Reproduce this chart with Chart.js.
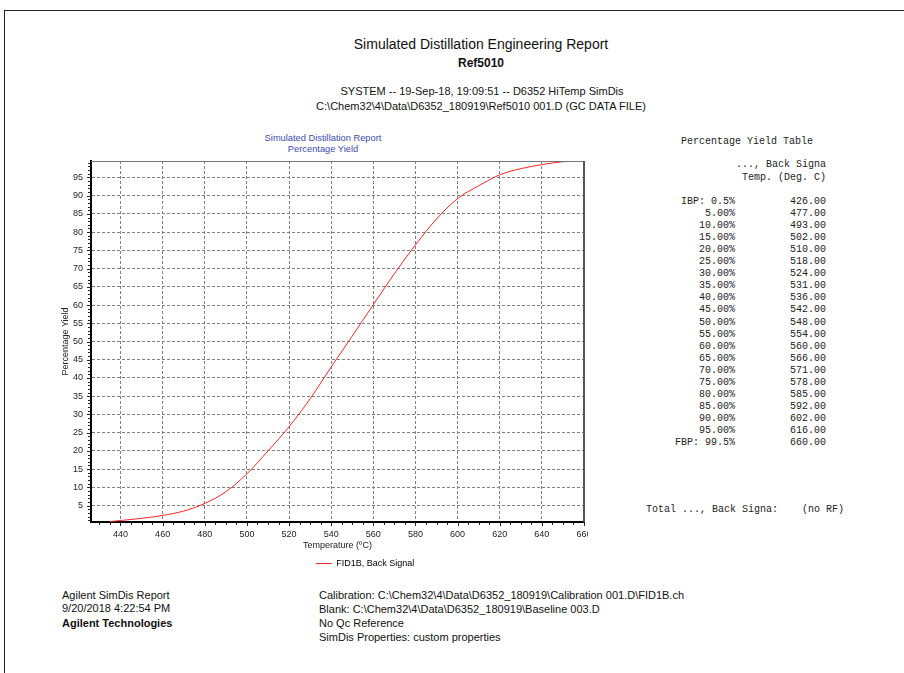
<!DOCTYPE html>
<html>
<head>
<meta charset="utf-8">
<script src="https://cdn.jsdelivr.net/npm/chart.js@4.4.0/dist/chart.umd.min.js"></script>
<style>
  body { margin: 0; background: #fff; width: 904px; height: 673px; overflow: hidden; position: relative;
         font-family: Arial, "Liberation Sans", sans-serif; color: #111; }
  .frame { position: absolute; left: 4px; top: 10px; width: 910px; height: 680px;
           border-top: 1px solid #222; border-left: 1px solid #222; }
  .t { position: absolute; white-space: pre; }
  .c { transform: translateX(-50%); }
  .s11 { font-size: 11px; line-height: 14px; }
  .mono { font-family: "Liberation Mono", "Courier New", monospace; font-size: 10px; line-height: 12px; color: #222; }
  .blue { font-size: 9.3px; line-height: 11px; color: #3a4db0; }
  #chartBox { position: absolute; left: 0; top: 125px; }
</style>
</head>
<body>
<div class="frame"></div>

<div class="t c" style="left:481px; top:36px; font-size:14px; line-height:16px;">Simulated Distillation Engineering Report</div>
<div class="t c" style="left:481px; top:55px; font-size:12px; line-height:16px; font-weight:bold;">Ref5010</div>
<div class="t c s11" style="left:482px; top:84px;">SYSTEM -- 19-Sep-18, 19:09:51 -- D6352 HiTemp SimDis</div>
<div class="t c s11" style="left:481px; top:99px;">C:\Chem32\4\Data\D6352_180919\Ref5010 001.D (GC DATA FILE)</div>

<div class="t c blue" style="left:323px; top:133px;">Simulated Distillation Report</div>
<div class="t c blue" style="left:323px; top:144px;">Percentage Yield</div>

<div id="chartBox"><canvas id="yieldChart" width="588" height="460"></canvas></div>

<div id="table"></div>

<div class="t s11" style="left:62px; top:588px;">Agilent SimDis Report</div>
<div class="t s11" style="left:62px; top:601px;">9/20/2018 4:22:54 PM</div>
<div class="t s11" style="left:62px; top:616px; font-weight:bold;">Agilent Technologies</div>
<div class="t s11" style="left:319px; top:588px;">Calibration: C:\Chem32\4\Data\D6352_180919\Calibration 001.D\FID1B.ch</div>
<div class="t s11" style="left:319px; top:602px;">Blank: C:\Chem32\4\Data\D6352_180919\Baseline 003.D</div>
<div class="t s11" style="left:319px; top:616px;">No Qc Reference</div>
<div class="t s11" style="left:319px; top:630px;">SimDis Properties: custom properties</div>

<script>
// curve (temperature, % yield)
const temps  = [435, 440, 450, 460, 470, 480, 490, 500, 510, 520, 530, 540, 550,
                560, 570, 580, 590, 600, 610, 620, 630, 640, 650, 660];
const yields = [0.6, 0.9, 1.5, 2.3, 3.5, 5.6, 8.8, 13.7, 20, 26.6, 34.3, 43.0, 51.5,
                60.1, 68.6, 76.5, 83.6, 89.2, 92.7, 95.7, 97.4, 98.5, 99.3, 99.5];

// yield table on the right
const tableLabels = ['IBP: 0.5%', '5.00%', '10.00%', '15.00%', '20.00%', '25.00%', '30.00%',
                     '35.00%', '40.00%', '45.00%', '50.00%', '55.00%', '60.00%', '65.00%',
                     '70.00%', '75.00%', '80.00%', '85.00%', '90.00%', '95.00%', 'FBP: 99.5%'];
const tableTemps  = ['426.00', '477.00', '493.00', '502.00', '510.00', '518.00', '524.00',
                     '531.00', '536.00', '542.00', '548.00', '554.00', '560.00', '566.00',
                     '571.00', '578.00', '585.00', '592.00', '602.00', '616.00', '660.00'];

// axis ranges and tick steps
const xMin = 426, xMax = 660, xStep = 20;
const yMin = 0.5, yMax = 99.5, yStep = 5;

function buildTable() {
    const box = document.getElementById('table');
    let html = '';
    html += '<div class="t mono" style="left:681px; top:136px;">Percentage Yield Table</div>';
    html += '<div class="t mono" style="right:78px; top:159px;">..., Back Signa</div>';
    html += '<div class="t mono" style="right:78px; top:172px;">Temp. (Deg. C)</div>';
    tableLabels.forEach(function(lab, i) {
        const top = 196 + i * 12.05;
        html += '<div class="t mono" style="right:169px; top:' + top + 'px;">' + lab + '</div>';
        html += '<div class="t mono" style="right:78px; top:' + top + 'px;">' + tableTemps[i] + '</div>';
    });
    html += '<div class="t mono" style="left:646px; top:504px;">Total ..., Back Signa:    (no RF)</div>';
    box.innerHTML = html;
}
buildTable();

Chart.defaults.font.family = 'Arial, "Liberation Sans", sans-serif';
Chart.defaults.color = '#222';

const lineColor = '#ff2525';

// small ruler ticks on both axes plus top / right frame
const axisTicks = {
    id: 'axisTicks',
    afterDraw(chart) {
        const ctx = chart.ctx, a = chart.chartArea, x = chart.scales.x, y = chart.scales.y;
        ctx.save();
        ctx.strokeStyle = '#222';
        ctx.lineWidth = 1;
        ctx.beginPath();
        for (let v = 1; v <= 99; v++) {
            const py = Math.round(y.getPixelForValue(v)) + 0.5;
            ctx.moveTo(a.left - (v % 5 ? 3 : 4), py);
            ctx.lineTo(a.left, py);
        }
        for (let v = 430; v <= 660; v += 5) {
            const px = Math.round(x.getPixelForValue(v)) + 0.5;
            ctx.moveTo(px, a.bottom);
            ctx.lineTo(px, a.bottom + (v % 20 ? 3 : 4));
        }
        ctx.stroke();
        ctx.strokeStyle = '#777';
        ctx.beginPath();
        ctx.moveTo(a.left, a.top + 0.5);
        ctx.lineTo(a.right, a.top + 0.5);
        ctx.stroke();
        ctx.strokeStyle = '#555';
        ctx.lineWidth = 2;
        ctx.beginPath();
        ctx.moveTo(a.right, a.top);
        ctx.lineTo(a.right, a.bottom);
        ctx.stroke();
        ctx.restore();
    }
};

// push the legend over to where the report puts it
const legendShift = {
    id: 'legendShift',
    afterLayout(chart) {
        chart.legend.left += 73;
        chart.legend.right += 73;
    }
};

const points = temps.map(function(t, i) { return { x: t, y: yields[i] }; });

new Chart(document.getElementById('yieldChart'), {
    type: 'line',
    data: {
        datasets: [{
            label: 'FID1B, Back Signal',
            data: points,
            borderColor: lineColor,
            borderWidth: 1,
            pointRadius: 0,
            fill: false,
            cubicInterpolationMode: 'monotone'
        }]
    },
    options: {
        responsive: false,
        animation: false,
        layout: { padding: { top: 36, right: 4, bottom: 7, left: 0 } },
        scales: {
            x: {
                type: 'linear',
                min: xMin,
                max: xMax,
                afterBuildTicks(scale) {
                    scale.ticks = scale.ticks.filter(t => Math.abs(t.value % xStep) < 1e-6);
                },
                afterFit(scale) {
                    scale.height = 29;
                    scale.paddingLeft = 0;
                    scale.paddingRight = 0;
                },
                ticks: { stepSize: xStep, padding: 7, maxRotation: 0, font: { size: 9 }, color: '#222' },
                grid: { color: '#808080', lineWidth: 1, drawTicks: false },
                border: { display: true, color: '#000', width: 2, dash: [3, 2] },
                title: { display: true, text: 'Temperature (ºC)', font: { size: 9 }, color: '#222', padding: 0 }
            },
            y: {
                min: yMin,
                max: yMax,
                afterBuildTicks(scale) {
                    scale.ticks = scale.ticks.filter(t => Math.abs(t.value % yStep) < 1e-6 && t.value > yMin);
                },
                afterFit(scale) {
                    scale.width = 91;
                    scale.paddingTop = 0;
                    scale.paddingBottom = 0;
                },
                ticks: { stepSize: yStep, padding: 8, font: { size: 9 }, color: '#222' },
                grid: { color: '#808080', lineWidth: 1, drawTicks: false },
                border: { display: true, color: '#000', width: 2, dash: [3, 2] },
                title: { display: true, text: 'Percentage Yield', font: { size: 9 }, color: '#222', padding: { top: 60, bottom: 0 } }
            }
        },
        plugins: {
            legend: {
                position: 'bottom',
                labels: {
                    boxWidth: 16,
                    boxHeight: 1,
                    padding: 8,
                    font: { size: 9 },
                    color: '#222',
                    generateLabels(chart) {
                        return chart.data.datasets.map(function(ds, i) {
                            return {
                                text: ds.label,
                                datasetIndex: i,
                                fillStyle: lineColor,
                                strokeStyle: lineColor,
                                lineWidth: 0,
                                hidden: false
                            };
                        });
                    }
                }
            },
            tooltip: { enabled: false }
        }
    },
    plugins: [axisTicks, legendShift]
});
</script>
</body>
</html>
